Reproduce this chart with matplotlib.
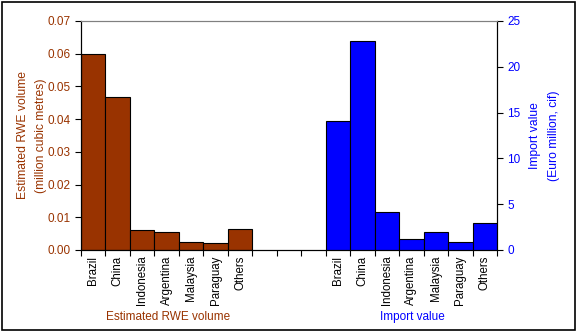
import numpy as np
import matplotlib.pyplot as plt
from matplotlib.patches import Rectangle

plt.rcParams['font.family'] = ['Liberation Sans', 'DejaVu Sans']

countries = ["Brazil", "China", "Indonesia", "Argentina", "Malaysia", "Paraguay", "Others"]
rwe_volume = [0.0599, 0.0467, 0.0060, 0.0054, 0.0024, 0.0021, 0.0063]
import_value = [14.1, 22.8, 4.15, 1.2, 1.97, 0.85, 2.95]

brown = "#993300"
blue = "#0000ff"

fig = plt.figure(figsize=(5.77, 3.32), dpi=100)
fig.patches.append(Rectangle((0.004, 0.006), 0.992, 0.988, transform=fig.transFigure,
                             fill=False, edgecolor="black", linewidth=1.2))

ax = fig.add_axes([0.1404, 0.247, 0.7210, 0.690])
ax2 = ax.twinx()

n = len(countries)
gap = 3
x_left = np.arange(n) + 0.5
x_right = np.arange(n) + n + gap + 0.5
nslots = 2 * n + gap

ax.bar(x_left, rwe_volume, width=1.0, color=brown, edgecolor="black", linewidth=0.8)
ax2.bar(x_right, import_value, width=1.0, color=blue, edgecolor="black", linewidth=0.8)

ax.set_xlim(0, nslots)
ax.set_ylim(0, 0.07)
ax2.set_ylim(0, 25)
ax.set_yticks(np.arange(0, 0.0701, 0.01))
ax.set_yticklabels(["%.2f" % v for v in np.arange(0, 0.0701, 0.01)])
ax2.set_yticks(np.arange(0, 26, 5))

# ticks at slot boundaries, labels at centres
ax.set_xticks(np.arange(0, nslots + 1))
ax.set_xticklabels([])
ax.set_xticks(np.concatenate([x_left, x_right]), minor=True)
ax.set_xticklabels(countries + countries, minor=True, rotation=90, fontsize=8.3)
ax.tick_params(axis="x", which="major", direction="out", length=4, width=0.8)
ax.tick_params(axis="x", which="minor", length=0, pad=4)

ax.tick_params(axis="y", direction="out", length=4, width=0.8, labelcolor=brown, labelsize=8.5)
ax2.tick_params(axis="y", direction="out", length=4, width=0.8, labelcolor=blue, labelsize=8.5)

for a in (ax, ax2):
    a.spines["top"].set_color("#808080")
    a.spines["left"].set_color("black")
    a.spines["right"].set_color("black")

ax.set_ylabel("Estimated RWE volume\n(million cubic metres)", color=brown, fontsize=8.7,
              labelpad=0, linespacing=1.75)
ax2.set_ylabel("Import value\n(Euro million, cif)", color=blue, fontsize=8.7,
               labelpad=6, linespacing=1.75)

fig.text(168 / 577, 1 - 317 / 332, "Estimated RWE volume", color=brown, fontsize=8.5,
         ha="center", va="center")
fig.text(412 / 577, 1 - 317 / 332, "Import value", color=blue, fontsize=8.5,
         ha="center", va="center")

fig.savefig("out.png", dpi=100)
